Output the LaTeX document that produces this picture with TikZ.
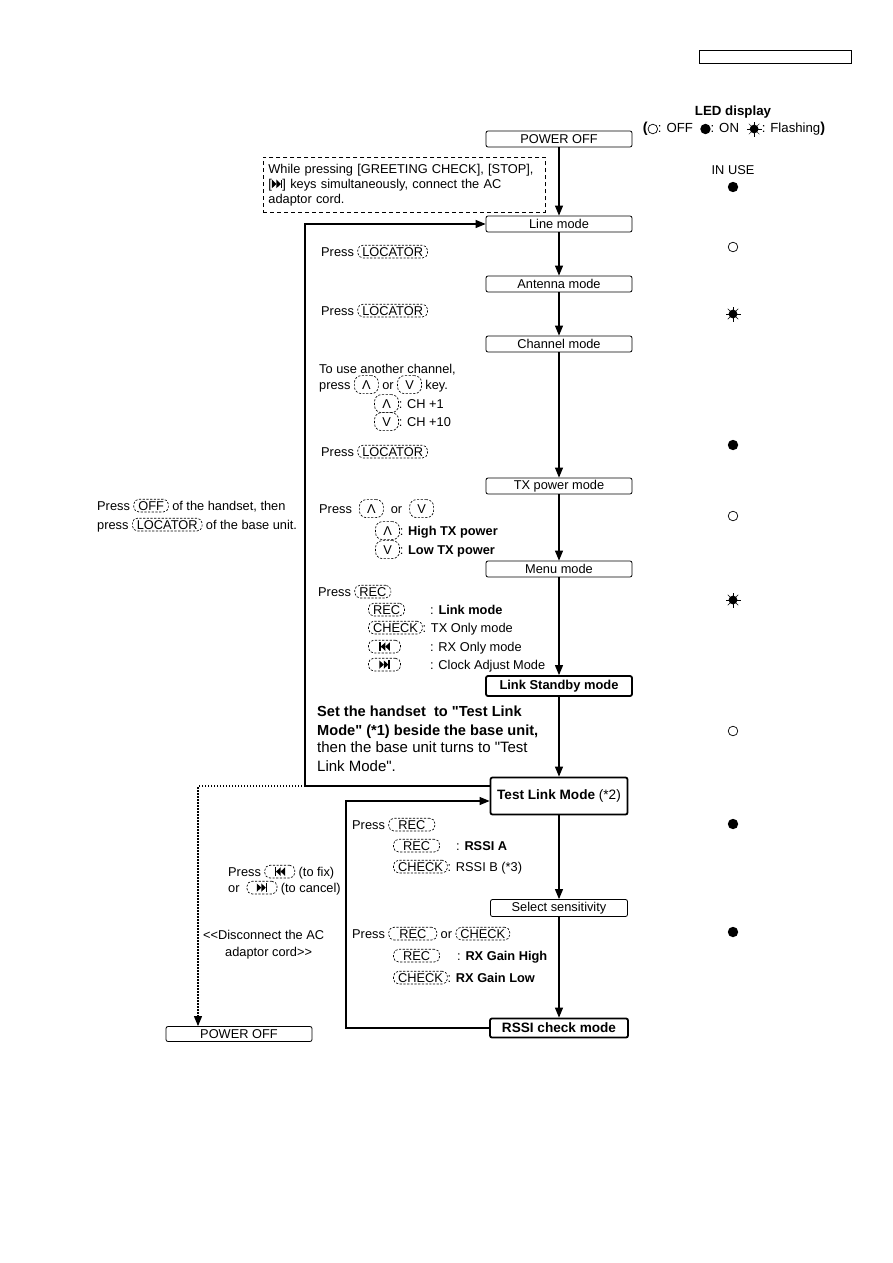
\documentclass[tikz,border=0pt]{standalone}
\usepackage{fontspec}
\setmainfont{Liberation Sans}
\usepackage{tikz}
\usetikzlibrary{arrows.meta,calc,positioning}
\tikzset{
  caja/.style={draw,rounded corners=2pt,line width=0.8pt,minimum width=146pt,minimum height=16pt,inner sep=0pt},
  cajagruesa/.style={caja,line width=1.8pt,font=\fontsize{13.6}{16}\selectfont\bfseries},
  tecla/.style={draw,dash pattern=on 2.2pt off 1.5pt,line width=0.65pt,rounded corners=5pt,inner xsep=4.5pt,inner ysep=1.8pt},
  nota/.style={draw,dash pattern=on 4pt off 3pt,line width=0.8pt,align=left,text width=272pt,minimum width=282pt,minimum height=55pt,inner xsep=5pt},
  flecha/.style={-{Triangle[length=10pt,width=8pt]},line width=1.1pt},
  punteada/.style={flecha,dash pattern=on 1.5pt off 1.5pt},
  txt/.style={anchor=base west,inner sep=0pt},
  grande/.style={font=\fontsize{15}{18}\selectfont},
  grandenegrita/.style={font=\fontsize{14.6}{18}\selectfont\bfseries}
}
\newcommand{\tecla}[2][0pt]{\tikz[baseline=(k.base)]\node[tecla,minimum width=#1] (k) {#2};}
\newcommand{\arriba}{\tikz[baseline=(k.base)]\node[tecla,inner xsep=2pt,rounded corners=7pt,minimum width=24pt,minimum height=18pt] (k) {Λ};}
\newcommand{\abajo}{\tikz[baseline=(k.base)]\node[tecla,inner xsep=2pt,rounded corners=7pt,minimum width=24pt,minimum height=18pt] (k) {V};}
% teclas con simbolo dibujado
\newcommand{\teclaatras}[1][32pt]{\tikz[baseline=(k.base),x=1pt,y=1pt]{\node[tecla,minimum width=#1] (k) {\vphantom{C}};
  \begin{scope}[shift={(k.center)}]
  \fill (-5.25,-4.25) rectangle (-3.75,4.25);
  \fill (-3.75,0)--(0.75,4.25)--(0.75,-4.25)--cycle;
  \fill (0.75,0)--(5.25,4.25)--(5.25,-4.25)--cycle;
  \end{scope}}}
\newcommand{\teclaadelante}[1][32pt]{\tikz[baseline=(k.base),x=1pt,y=1pt]{\node[tecla,minimum width=#1] (k) {\vphantom{C}};
  \begin{scope}[shift={(k.center)}]
  \fill (-5.25,-4.25)--(-0.75,0)--(-5.25,4.25)--cycle;
  \fill (-0.75,-4.25)--(3.75,0)--(-0.75,4.25)--cycle;
  \fill (3.75,-4.25) rectangle (5.25,4.25);
  \end{scope}}}
\newcommand{\adelante}{\tikz[x=1pt,y=1pt,baseline=0pt]{\fill (0,0)--(4.5,4.25)--(0,8.5)--cycle; \fill (4.5,0)--(9,4.25)--(4.5,8.5)--cycle; \fill (9,0) rectangle (10.5,8.5);}}
\newcommand{\simoff}{\tikz[x=1pt,y=1pt,baseline=-3.8pt]\draw[line width=0.7pt] (0,0) circle (4.8);}
\newcommand{\simon}{\tikz[x=1pt,y=1pt,baseline=-3.8pt]\fill (0,0) circle (5.2);}
\newcommand{\simflash}{\tikz[x=1pt,y=1pt,baseline=-3.8pt]{\fill (0,0) circle (4.4); \foreach \a in {0,45,...,315} \draw[line width=0.5pt] (\a:4) -- (\a:7.5);}}

\begin{document}
\begin{tikzpicture}[x=1pt,y=-1pt,font=\fontsize{12.8}{15}\selectfont]
\path[use as bounding box,fill=white] (0,0) rectangle (893,1263);
\node[draw,line width=0.8pt,minimum width=152pt,minimum height=13pt,inner sep=0pt] (cabecera) at (775,57) {};
% cabecera LED
\node[font=\fontsize{13.3}{16}\selectfont\bfseries] (titulo) at (733,112) {LED display};
\node[font=\fontsize{13.2}{16}\selectfont] (leyenda) at (734,129) {{\Large\bfseries(}\simoff: OFF \ \simon: ON \ \simflash: Flashing{\Large\bfseries)}};
\node (enuso) at (733,170) {IN USE};
\foreach \y/\s [count=\i] in {187/\simon,247/\simoff,314/\simflash,445/\simon,516/\simoff,600/\simflash,731/\simoff,824/\simon,932/\simon}
  \node (led\i) at (733,\y) {\s};
% modos
\node[caja] (off1) at (559,139) {POWER OFF};
\node[caja] (linea) at (559,224) {Line mode};
\node[caja] (antena) at (559,284) {Antenna mode};
\node[caja] (canal) at (559,344) {Channel mode};
\node[caja] (txpot) at (559,486) {TX power mode};
\node[caja] (menu) at (559,569) {Menu mode};
\node[cajagruesa,minimum height=20pt,font=\fontsize{12.9}{15}\selectfont\bfseries] (standby) at (559,686) {Link Standby mode};
\node[cajagruesa,minimum width=137pt,minimum height=37pt] (testlink) at (559,796) {Test Link Mode \mdseries(*2)};
\node[caja,minimum width=137pt,minimum height=17pt] (selsens) at (559,908) {Select sensitivity};
\node[cajagruesa,minimum width=138pt,minimum height=19pt] (rssi) at (559,1028) {RSSI check mode};
\node[caja,minimum height=15pt] (off2) at (239,1034) {POWER OFF};
\node[nota,anchor=north west] (nota) at (263,157) {While pressing [GREETING CHECK], [STOP],\\{[}\adelante{]} keys simultaneously, connect the AC\\adaptor cord.};
% textos
\node[txt] (pulsar1) at (97,510) {Press \tecla{OFF} of the handset, then};
\node[txt] (pulsar2) at (97,529) {press \tecla{LOCATOR} of the base unit.};
\node[txt] (loc1) at (321,256) {Press \tecla{LOCATOR}};
\node[txt] (loc2) at (321,315) {Press \tecla{LOCATOR}};
\node[txt] (canal1) at (319,373) {To use another channel,};
\node[txt] (canal2) at (319,389) {press \arriba{} or \abajo{} key.};
\node[txt] (canal3) at (374,408) {\arriba: CH +1};
\node[txt] (canal4) at (374,426) {\abajo: CH +10};
\node[txt] (loc3) at (321,456) {Press \tecla{LOCATOR}};
\node[txt] (pot1) at (319,513) {Press \ \arriba{} \ or \ \abajo};
\node[txt] (pot2) at (375,535) {\arriba: \textbf{High TX power}};
\node[txt] (pot3) at (375,554) {\abajo: \textbf{Low TX power}};
\node[txt] (rec1) at (318,596) {Press \tecla{REC}};
\node[txt] (menu1) at (368,614) {\makebox[62pt][l]{\tecla{REC}}: \textbf{Link mode}};
\node[txt] (menu2) at (368,632) {\tecla{CHECK}: TX Only mode};
\node[txt] (menu3) at (368,651) {\makebox[62pt][l]{\teclaatras}: RX Only mode};
\node[txt] (menu4) at (368,669) {\makebox[62pt][l]{\teclaadelante}: Clock Adjust Mode};
\node[txt,grandenegrita] (aviso1) at (317,716) {Set the handset\ \ to \textquotedbl Test Link};
\node[txt,grandenegrita] (aviso2) at (317,735) {Mode\textquotedbl{} (*1) beside the base unit,};
\node[txt,grande] (aviso3) at (317,752) {then the base unit turns to \textquotedbl Test};
\node[txt,grande] (aviso4) at (317,771) {Link Mode\textquotedbl.};
\node[txt] (rssi1) at (352,829) {Press \tecla[46pt]{REC}};
\node[txt] (rssi2) at (393,850) {\makebox[63pt][l]{\tecla[46pt]{REC}}: \textbf{RSSI A}};
\node[txt] (rssi3) at (393,871) {\tecla{CHECK}: RSSI B (*3)};
\node[txt] (sens1) at (352,938) {Press \tecla[48pt]{REC} or \tecla{CHECK}};
\node[txt] (sens2) at (393,960) {\makebox[64pt][l]{\tecla[46pt]{REC}}: \textbf{RX Gain High}};
\node[txt] (sens3) at (393,982) {\tecla{CHECK}: \textbf{RX Gain Low}};
\node[txt] (fijar1) at (228,876) {Press \teclaatras[30pt] (to fix)};
\node[txt] (fijar2) at (228,892) {or \ \teclaadelante[30pt] (to cancel)};
\node[txt] (descon1) at (203,939) {\textless\kern0pt\textless\kern0pt Disconnect the AC};
\node[txt] (descon2) at (225,956) {adaptor cord\kern0pt\textgreater\kern0pt\textgreater};
% flechas
\draw[flecha] (off1) -- (linea);
\draw[flecha] (linea) -- (antena);
\draw[flecha] (antena) -- (canal);
\draw[flecha] (canal) -- (txpot);
\draw[flecha] (txpot) -- (menu);
\draw[flecha] (menu) -- (standby);
\draw[flecha] (standby) -- (testlink);
\draw[flecha] (testlink) -- (selsens);
\draw[flecha] (selsens) -- (rssi);
\coordinate (codo1) at (305,786);
\coordinate (codo2) at (198,786);
\coordinate (codo3) at (346,801);
\draw[line width=1.1pt] (testlink.west |- codo1) -- (codo1);
\draw[flecha] (codo1) |- (linea.west);
\draw[punteada] (codo1) -- (codo2) -- (codo2 |- off2.north);
\draw[flecha] (rssi.west) -| (codo3) -- (codo3 -| testlink.west);
\end{tikzpicture}
\end{document}
